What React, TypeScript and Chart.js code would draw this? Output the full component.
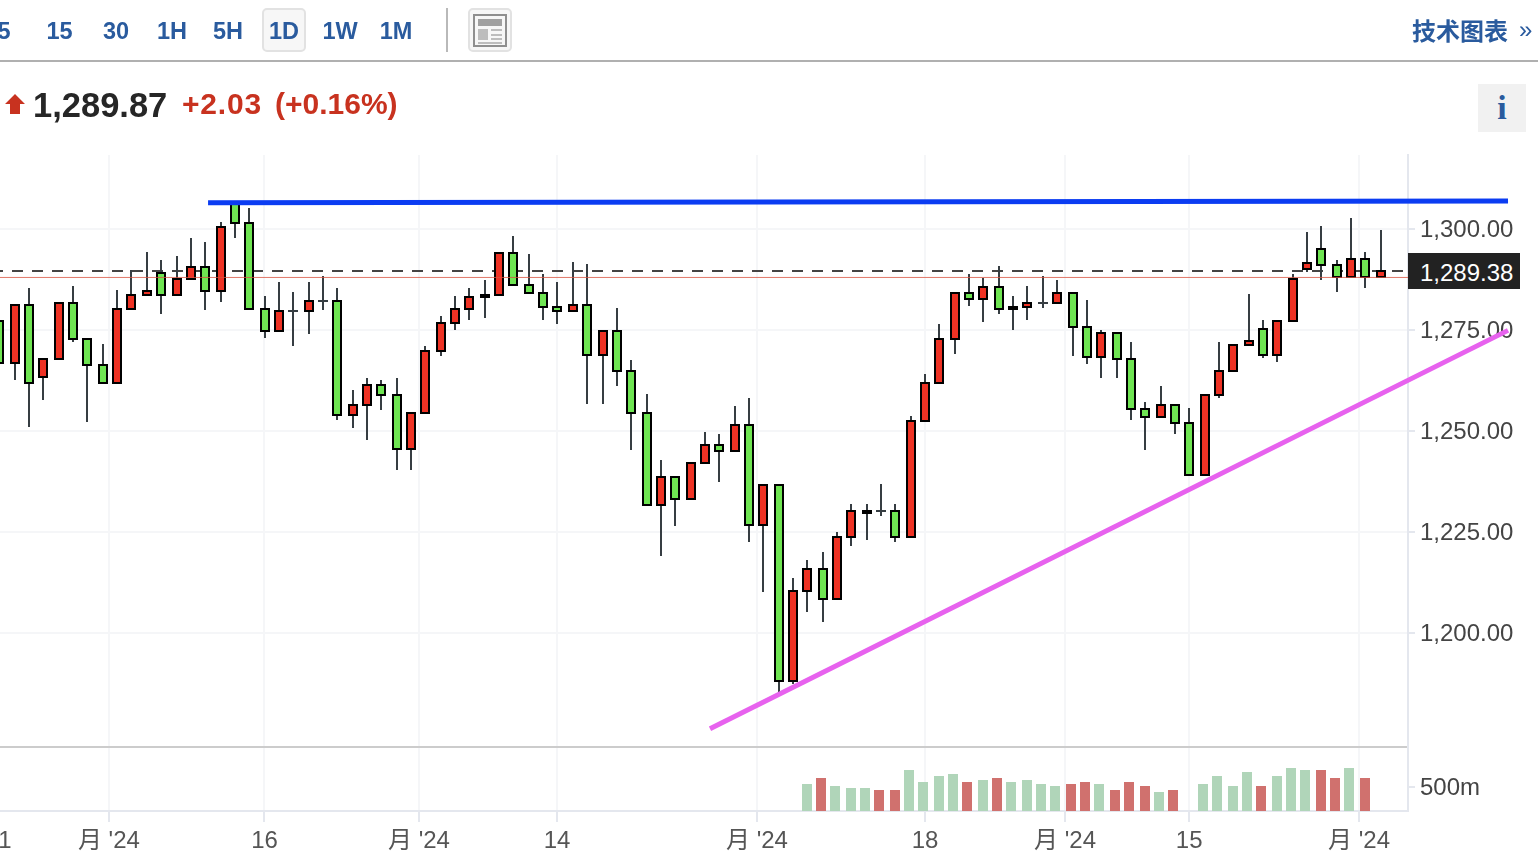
import React, { useEffect, useRef } from "react";
import { Chart, registerables } from "chart.js";

Chart.register(...registerables);

const opens = [1277.5,1266.6,1281.4,1263.1,1267.6,1281.9,1273.0,1266.6,1261.6,1280.0,1283.4,1289.4,1283.4,1287.4,1290.8,1284.4,1306.4,1301.7,1280.4,1274.5,1279.7,1279.5,1282.2,1282.4,1253.7,1256.2,1261.6,1259.2,1245.3,1254.2,1269.6,1276.5,1280.0,1282.9,1283.4,1294.3,1286.4,1284.4,1280.9,1279.5,1281.4,1268.6,1275.0,1265.1,1254.7,1231.4,1238.9,1232.9,1241.8,1246.8,1244.8,1251.7,1226.5,1236.9,1187.9,1210.2,1216.1,1208.2,1223.5,1229.5,1230.2,1230.5,1223.5,1252.2,1261.6,1272.5,1284.4,1282.4,1285.9,1280.9,1280.4,1281.7,1281.4,1284.4,1276.0,1268.1,1274.5,1268.1,1255.7,1253.2,1256.7,1252.2,1238.9,1258.7,1264.6,1271.0,1275.5,1268.6,1277.0,1289.9,1295.3,1291.3,1287.9,1292.8,1287.9];
const closes = [1266.6,1281.4,1261.6,1268.1,1281.9,1272.5,1266.1,1261.6,1280.4,1283.9,1284.9,1283.4,1287.9,1290.8,1284.4,1300.7,1301.2,1280.0,1274.5,1280.0,1279.7,1282.4,1282.2,1253.7,1256.7,1261.6,1258.7,1245.3,1254.7,1270.0,1277.0,1280.4,1283.4,1283.9,1294.3,1285.9,1283.9,1280.4,1279.5,1281.4,1268.6,1275.0,1264.6,1254.2,1231.4,1238.9,1232.9,1242.3,1246.8,1244.8,1251.7,1226.5,1236.9,1187.9,1210.7,1216.1,1208.2,1224.0,1230.5,1230.5,1230.2,1223.5,1252.7,1262.1,1273.0,1284.4,1282.4,1285.9,1280.0,1280.0,1281.9,1281.7,1284.4,1275.5,1268.1,1274.5,1267.6,1255.2,1253.2,1256.7,1251.7,1238.9,1259.2,1265.1,1271.5,1272.5,1268.6,1277.5,1287.9,1291.8,1290.8,1287.9,1292.8,1287.9,1289.9];
const highs = [1277.5,1281.4,1285.4,1268.1,1281.9,1285.9,1273.0,1271.5,1284.9,1289.9,1294.3,1292.3,1293.3,1297.8,1296.8,1301.7,1306.7,1305.2,1283.4,1286.9,1284.4,1286.9,1288.4,1285.4,1260.2,1263.1,1262.6,1263.1,1254.7,1271.0,1278.5,1283.4,1285.4,1287.4,1294.3,1298.3,1293.8,1288.9,1286.9,1291.8,1291.3,1275.0,1280.4,1267.6,1259.2,1242.8,1238.9,1242.3,1249.8,1249.3,1256.2,1258.2,1236.9,1236.9,1213.6,1218.1,1220.1,1225.0,1231.9,1231.9,1236.9,1231.9,1253.7,1264.1,1276.5,1284.4,1288.9,1287.9,1290.8,1283.4,1285.9,1288.4,1287.4,1284.4,1282.4,1275.0,1274.5,1272.0,1257.2,1261.1,1256.7,1255.7,1259.2,1272.0,1271.5,1283.9,1277.5,1277.5,1288.9,1299.3,1300.7,1292.3,1302.7,1294.3,1299.8];
const lows = [1266.6,1262.6,1251.0,1257.7,1267.6,1272.0,1252.2,1261.6,1261.6,1280.0,1283.4,1279.0,1283.4,1287.4,1280.0,1281.9,1297.8,1280.0,1273.0,1274.5,1271.0,1274.0,1280.0,1252.7,1250.7,1247.8,1255.2,1240.4,1240.4,1254.2,1268.6,1275.0,1277.5,1278.0,1283.4,1285.9,1283.9,1277.5,1276.5,1279.5,1256.7,1256.7,1261.1,1245.3,1231.4,1219.1,1226.5,1232.9,1241.8,1237.4,1244.8,1222.5,1210.2,1185.4,1187.4,1205.2,1202.7,1208.2,1221.5,1223.0,1229.0,1222.5,1223.5,1252.2,1261.6,1269.1,1280.9,1277.0,1279.0,1275.0,1277.5,1280.4,1281.4,1268.6,1266.6,1263.1,1263.1,1252.7,1245.3,1253.2,1249.3,1238.9,1238.9,1258.2,1264.6,1271.0,1268.1,1267.1,1277.0,1289.4,1287.4,1284.4,1287.9,1285.4,1287.9];

const volumeStart = 55;
const volumes = [560,690,520,480,480,440,440,850,600,730,770,600,650,690,600,650,560,520,560,600,560,440,600,520,400,440,null,560,730,520,810,520,730,900,850,850,690,900,690];
const volumeUp = [0,1,0,0,0,1,1,0,0,0,0,1,0,1,0,0,0,0,1,1,0,1,1,1,0,1,0,0,0,0,0,1,0,0,0,1,1,0,1];

const priceTicks = [1200, 1225, 1250, 1275, 1300];
const volumeTicks = [500, 1333];
const xTickPositions = [0.35, 7.43, 18.02, 28.54, 37.94, 51.55, 62.99, 72.52, 80.97, 92.54];
const xTickLabels = ["1", "月 '24", "16", "月 '24", "14", "月 '24", "18", "月 '24", "15", "月 '24"];

const lastPrice = 1289.6;
const redLevel = 1288.0;
const resistance = [{ x: 14.18, y: 1306.5 }, { x: 102.68, y: 1306.9 }];
const trend = [{ x: 48.35, y: 1176.3 }, { x: 102.68, y: 1274.9 }];
const intervals = [
  { label: "5", x: -7, w: 22 },
  { label: "15", x: 46, w: 27 },
  { label: "30", x: 100, w: 32 },
  { label: "1H", x: 157, w: 30 },
  { label: "5H", x: 211, w: 34 },
  { label: "1D", x: 269, w: 30 },
  { label: "1W", x: 321, w: 38 },
  { label: "1M", x: 379, w: 34 },
];

const FONT = "'Liberation Sans', 'Noto Sans CJK SC', sans-serif";
const BLUE = "#2a5b9e";
const RED = "#c8321f";
const WICK = "#363d42";
const AXIS = "#e4e7ee";
const GRID = "#f5f6f8";

const snapBars = {
  id: "snapBars",
  afterDatasetsUpdate(chart: any) {
    chart.getSortedVisibleDatasetMetas().forEach((meta: any) => {
      if (meta.type !== "bar") return;
      meta.data.forEach((el: any) => {
        el.x = 2 * Math.floor(el.x / 2) + 1;
        el.y = Math.round(el.y);
        el.base = Math.round(el.base);
      });
    });
  },
};

const abs = (left: number, top: number, width: number, height: number, extra: any = {}) => ({
  position: "absolute" as const, left, top, width, height, boxSizing: "border-box" as const, ...extra,
});

export default function App() {
  const ref = useRef<HTMLCanvasElement | null>(null);

  useEffect(() => {
    const idx = opens.map((_, i) => i);
    const bodyData = idx
      .filter((i) => opens[i] !== closes[i])
      .map((i) => ({ x: i, y: [Math.min(opens[i], closes[i]), Math.max(opens[i], closes[i])] }));
    const bodyColors = idx
      .filter((i) => opens[i] !== closes[i])
      .map((i) => (closes[i] > opens[i] ? "#ee3224" : "#6fe552"));
    const dojiData = idx
      .filter((i) => opens[i] === closes[i])
      .map((i) => ({ x: i, y: [opens[i] - 0.25, opens[i] + 0.25] }));
    const wickData = idx.map((i) => ({ x: i, y: [lows[i], highs[i]] }));
    const volumeData = volumes.map((v, k) => ({ x: volumeStart + k - 0.1, y: v }));
    const levelLine = (v: number) => [{ x: 0.015, y: v }, { x: 95.87, y: v }];

    const chart = new Chart(ref.current as HTMLCanvasElement, {
      type: "bar",
      plugins: [snapBars],
      data: {
        datasets: [
          { type: "line", data: levelLine(lastPrice), borderColor: "#444", borderWidth: 2, borderDash: [11, 9], borderDashOffset: 8, pointRadius: 0, order: 7, yAxisID: "y" },
          { data: wickData, backgroundColor: WICK, barThickness: 2, grouped: false, inflateAmount: 0, order: 6, yAxisID: "y" },
          { data: dojiData, backgroundColor: WICK, barThickness: 10, grouped: false, inflateAmount: 0, order: 5, yAxisID: "y" },
          { data: bodyData, backgroundColor: bodyColors, borderColor: "#000", borderWidth: 2, borderSkipped: false, barThickness: 10, grouped: false, inflateAmount: 0, order: 4, yAxisID: "y" },
          { data: volumeData, backgroundColor: volumeUp.map((u) => (u ? "#d0716e" : "#b0d5b9")), barThickness: 10, grouped: false, inflateAmount: 0, order: 3, yAxisID: "volume" },
          { type: "line", data: levelLine(redLevel), borderColor: "rgba(218,84,66,0.8)", borderWidth: 1, pointRadius: 0, order: 2, yAxisID: "y" },
          { type: "line", data: resistance, borderColor: "#0b3cf2", borderWidth: 5, pointRadius: 0, clip: false, order: 1, yAxisID: "y" },
          { type: "line", data: trend, borderColor: "#e762ee", borderWidth: 5, pointRadius: 0, clip: false, order: 0, yAxisID: "y" },
        ] as any,
      },
      options: {
        responsive: false,
        animation: false,
        devicePixelRatio: 1,
        layout: { padding: { top: 155, left: 0, right: 0, bottom: 0 } },
        plugins: { legend: { display: false }, tooltip: { enabled: false } },
        events: [],
        scales: {
          x: {
            type: "linear",
            min: 0.015,
            max: 95.87,
            offset: false,
            afterBuildTicks(axis: any) { axis.ticks = xTickPositions.map((value) => ({ value })); },
            afterFit(axis: any) { axis.height = 43; axis.paddingLeft = 0; axis.paddingRight = 0; },
            border: { color: AXIS, width: 2 },
            grid: {
              offset: false,
              lineWidth: 2,
              color: (c: any) => (c.tick && c.tick.value === xTickPositions[0] ? "transparent" : GRID),
              tickColor: (c: any) => (c.tick && c.tick.value === xTickPositions[0] ? "transparent" : AXIS),
              tickLength: 11,
              tickWidth: 2,
            },
            ticks: {
              autoSkip: false,
              maxRotation: 0,
              minRotation: 0,
              padding: 5,
              color: "#555",
              font: { family: FONT, size: 24 },
              callback: (v: any) => xTickLabels[xTickPositions.indexOf(v)] ?? "",
            },
          },
          y: {
            type: "linear",
            position: "right",
            stack: "panels",
            stackWeight: 592,
            min: 1171.8,
            max: 1318.3,
            afterBuildTicks(axis: any) { axis.ticks = priceTicks.map((value) => ({ value })); },
            afterFit(axis: any) { axis.width = 130; axis.paddingTop = 0; axis.paddingBottom = 0; },
            border: { color: AXIS, width: 2 },
            grid: { lineWidth: 2, color: GRID, tickColor: AXIS, tickLength: 7, tickWidth: 2 },
            ticks: {
              padding: 5,
              labelOffset: 1,
              color: "#444",
              font: { family: FONT, size: 24 },
              callback: (v: any) => Number(v).toLocaleString("en-US", { minimumFractionDigits: 2, maximumFractionDigits: 2 }),
            },
          },
          volume: {
            type: "linear",
            position: "right",
            stack: "panels",
            stackWeight: 64,
            min: 0,
            max: 1333,
            afterBuildTicks(axis: any) { axis.ticks = volumeTicks.map((value) => ({ value })); },
            afterFit(axis: any) { axis.width = 130; axis.paddingTop = 0; axis.paddingBottom = 0; },
            border: { color: AXIS, width: 2 },
            grid: {
              lineWidth: 2,
              color: (c: any) => (c.tick && c.tick.value === 500 ? "transparent" : "#cccccc"),
              tickColor: (c: any) => (c.tick && c.tick.value === 500 ? AXIS : "transparent"),
              tickLength: 7,
              tickWidth: 2,
            },
            ticks: {
              padding: 5,
              labelOffset: 1,
              color: "#444",
              font: { family: FONT, size: 24 },
              callback: (v: any) => (v === 500 ? "500m" : ""),
            },
          },
        },
      } as any,
    });
    return () => chart.destroy();
  }, []);

  return (
    <div style={{ position: "fixed", left: 0, top: 0, width: 1538, height: 854, overflow: "hidden", background: "#fff", fontFamily: FONT }}>
      <canvas ref={ref} width={1538} height={854} style={{ position: "absolute", left: 0, top: 0, display: "block" }} />

      <div style={abs(262, 8, 44, 44, { border: "2px solid #e2e2e2", borderRadius: 5, background: "#f7f7f7" })} />
      {intervals.map((t) => (
        <div key={t.label} style={abs(t.x, 16, t.w, 30, { color: BLUE, fontWeight: 700, fontSize: 23.5, lineHeight: "30px", textAlign: "center", whiteSpace: "nowrap" })}>{t.label}</div>
      ))}
      <div style={abs(446, 8, 2, 44, { background: "#b9b9b9" })} />
      <div style={abs(468, 8, 44, 44, { border: "2px solid #e2e2e2", borderRadius: 5, background: "#f7f7f7" })} />
      <div style={abs(473, 14, 34, 33, { border: "2px solid #8f8f8f" })} />
      <div style={abs(478, 19, 24, 7, { background: "#a0a0a0" })} />
      <div style={abs(478, 29, 10, 11, { background: "#bdbdbd" })} />
      <div style={abs(491, 29, 11, 2, { background: "#bdbdbd" })} />
      <div style={abs(491, 34, 11, 2, { background: "#bdbdbd" })} />
      <div style={abs(491, 38, 11, 2, { background: "#bdbdbd" })} />
      <div style={abs(478, 42, 24, 2, { background: "#bdbdbd" })} />

      <div style={abs(1412, 14, 100, 32, { color: BLUE, fontWeight: 700, fontSize: 24, lineHeight: "32px", fontFamily: "'Noto Sans CJK SC', sans-serif", whiteSpace: "nowrap" })}>技术图表</div>
      <div style={abs(1519, 14, 18, 32, { color: BLUE, fontSize: 24, lineHeight: "32px" })}>»</div>
      <div style={abs(0, 60, 1538, 2, { background: "#b0b0b0" })} />

      <div style={abs(5, 94, 20, 20, { background: RED, clipPath: "polygon(50% 0, 100% 50%, 75% 50%, 75% 100%, 25% 100%, 25% 50%, 0 50%)" })} />
      <div style={abs(33, 84, 150, 42, { color: "#262626", fontWeight: 700, fontSize: 34.5, lineHeight: "42px", whiteSpace: "nowrap" })}>1,289.87</div>
      <div style={abs(182, 86, 90, 36, { color: RED, fontWeight: 700, fontSize: 30, lineHeight: "36px", letterSpacing: 0.8, whiteSpace: "nowrap" })}>+2.03</div>
      <div style={abs(275, 86, 130, 36, { color: RED, fontWeight: 700, fontSize: 30, lineHeight: "36px", whiteSpace: "nowrap" })}>(+0.16%)</div>
      <div style={abs(1478, 84, 48, 48, { background: "#f1f1f1", color: BLUE, fontFamily: "'Liberation Serif', serif", fontWeight: 700, fontSize: 34, lineHeight: "48px", textAlign: "center" })}>i</div>

      <div style={abs(1408, 253, 112, 36, { background: "#222", color: "#fff", fontSize: 24, lineHeight: "40px", paddingLeft: 12, whiteSpace: "nowrap" })}>1,289.38</div>
    </div>
  );
}
